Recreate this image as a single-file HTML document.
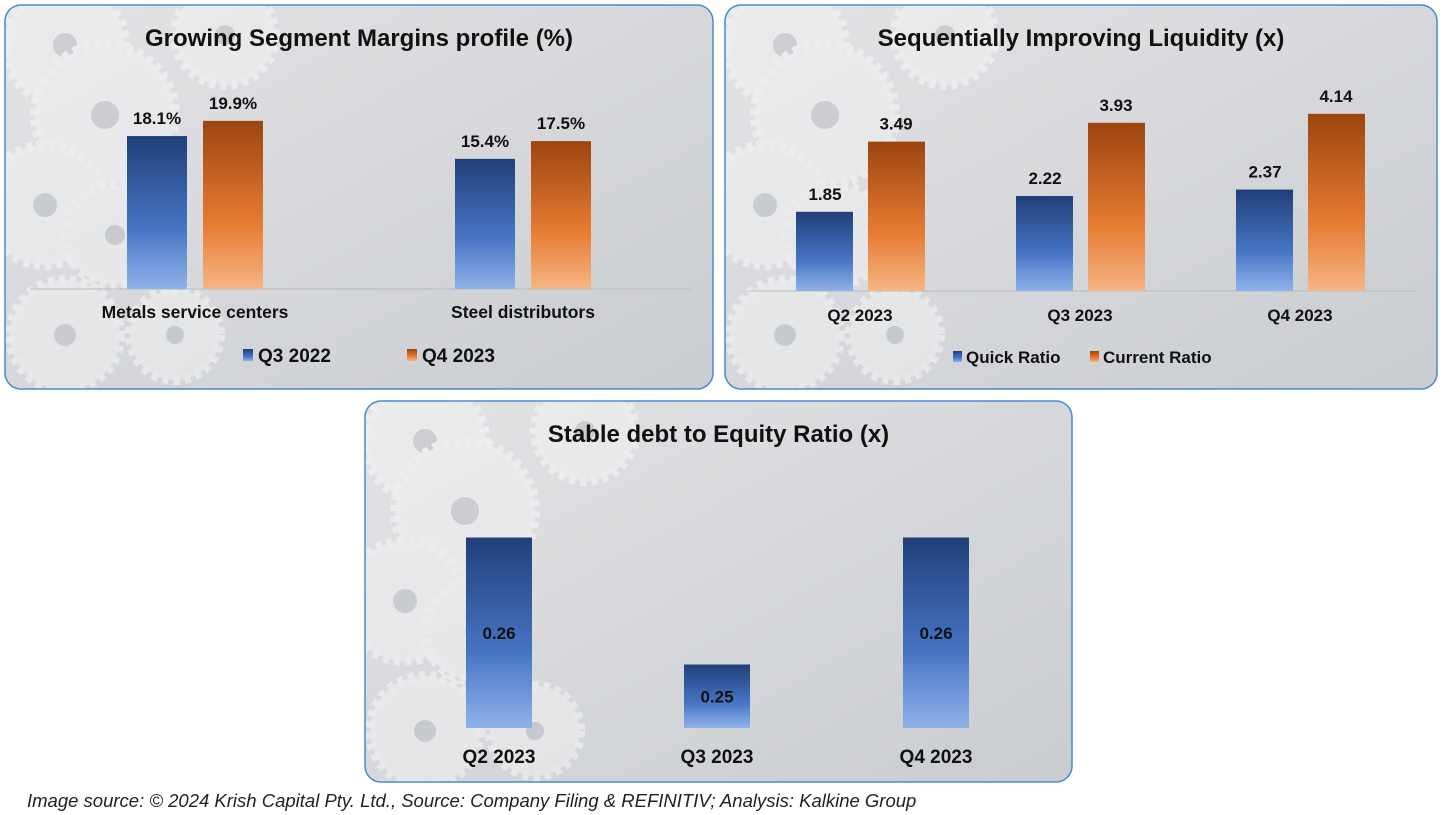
<!DOCTYPE html>
<html><head><meta charset="utf-8">
<style>
body{margin:0;width:1445px;height:815px;background:#fff;font-family:"Liberation Sans",Arial,sans-serif;position:relative;overflow:hidden}
svg{position:absolute;left:0;top:0}
text{font-family:"Liberation Sans",Arial,sans-serif}
#caption{position:absolute;left:27px;top:790px;font-style:italic;font-size:18.5px;color:#222;white-space:nowrap}
</style></head><body>
<svg id="s" width="1445" height="815">
<defs>
<linearGradient id="gb" x1="0" y1="0" x2="0" y2="1"><stop offset="0" stop-color="#203f78"/><stop offset="0.6" stop-color="#4674c4"/><stop offset="1" stop-color="#8fb2ea"/></linearGradient>
<linearGradient id="go" x1="0" y1="0" x2="0" y2="1"><stop offset="0" stop-color="#9c4510"/><stop offset="0.6" stop-color="#e67a30"/><stop offset="1" stop-color="#f6b585"/></linearGradient>
<linearGradient id="bg" x1="0" y1="0" x2="1" y2="1"><stop offset="0" stop-color="#e2e3e5"/><stop offset="0.5" stop-color="#d6d8db"/><stop offset="1" stop-color="#c9ccd0"/></linearGradient>
</defs>
<g id="panels"></g>
</svg>
<div id="caption">Image source: © 2024 Krish Capital Pty. Ltd., Source: Company Filing &amp; REFINITIV; Analysis: Kalkine Group</div>
<script>
// Chart 1 data
const c1Categories=["Metals service centers","Steel distributors"];
const c1Series1=[18.1,15.4];
const c1Series2=[19.9,17.5];
const c1Labels1=["18.1%","15.4%"];
const c1Labels2=["19.9%","17.5%"];
const c1Legend=["Q3 2022","Q4 2023"];
// Chart 2 data
const c2Categories=["Q2 2023","Q3 2023","Q4 2023"];
const c2Quick=[1.85,2.22,2.37];
const c2Current=[3.49,3.93,4.14];
const c2Legend=["Quick Ratio","Current Ratio"];
// Chart 3 data
const c3Categories=["Q2 2023","Q3 2023","Q4 2023"];
const c3Values=[0.26,0.25,0.26];
const c3Labels=["0.26","0.25","0.26"];

const NS="http://www.w3.org/2000/svg";
const root=document.getElementById('panels');
function mk(tag,attrs,parent){const e=document.createElementNS(NS,tag);for(const k in attrs)e.setAttribute(k,attrs[k]);(parent||root).appendChild(e);return e;}
function txt(x,y,s,size,parent,anchor){const t=mk('text',{x:x,y:y,'font-size':size,'font-weight':'bold','text-anchor':anchor||'middle',fill:'#111'},parent);t.textContent=s;return t;}

function panel(x,y,w,h,name,title,ty){
  const g=mk('g',{});
  
  
  const cp=mk('clipPath',{id:'cp'+name},g);
  mk('rect',{x:x,y:y,width:w,height:h,rx:16},cp);
  mk('rect',{x:x,y:y,width:w,height:h,rx:16,fill:'url(#bg)'},g);
  const gears=mk('g',{'clip-path':'url(#cp'+name+')',opacity:0.5},g);
  const gp=[[60,40,60],[100,110,70],[40,200,60],[110,230,50],[60,330,55],[170,330,45],[220,30,50]];
  gp.forEach(p=>{
    mk('circle',{cx:x+p[0],cy:y+p[1],r:p[2],fill:'#f4f4f4',stroke:'#fafafa','stroke-width':10,'stroke-dasharray':'6 5'},gears);
    mk('circle',{cx:x+p[0],cy:y+p[1],r:p[2]*0.2,fill:'#b9bcc0'},gears);
  });
  mk('rect',{x:x,y:y,width:w,height:h,rx:16,fill:'none',stroke:'#4a8ad0','stroke-width':1.5},g);
  const t=txt(x+w/2,ty,title,24,g);
  
  
  return g;
}

// Chart 1
{
 const g=panel(5,5,708,384,'segment-margins-panel','Growing Segment Margins profile (%)',46);
 const base=289, k=8.45;
 const y=v=>base-v*k;
 mk('line',{x1:30,y1:base,x2:690,y2:base,stroke:'#bbb'},g);
 const cx=[195,523];
 c1Categories.forEach((c,i)=>{
  const b1=mk('rect',{x:cx[i]-68,y:y(c1Series1[i]),width:60,height:base-y(c1Series1[i]),fill:'url(#gb)'},g);
  
  
  const b2=mk('rect',{x:cx[i]+8,y:y(c1Series2[i]),width:60,height:base-y(c1Series2[i]),fill:'url(#go)'},g);
  
  
  const l1=txt(cx[i]-38,y(c1Series1[i])-12,c1Labels1[i],17,g);
  
  
  const l2=txt(cx[i]+38,y(c1Series2[i])-12,c1Labels2[i],17,g);
  
  
  const cl=txt(cx[i],318,c,17.5,g);
  
  
 });
 [[243,'url(#gb)'],[407,'url(#go)']].forEach((p,i)=>{
  const r=mk('rect',{x:p[0],y:349,width:10,height:12,fill:p[1]},g);
  
  
  const t=txt(p[0]+15,362,c1Legend[i],19,g,'start');
  
  
 });
}
// Chart 2
{
 const g=panel(725,5,712,384,'liquidity-panel','Sequentially Improving Liquidity (x)',46);
 const base=291, k=42.8;
 const y=v=>base-v*k;
 mk('line',{x1:748,y1:base,x2:1415,y2:base,stroke:'#bbb'},g);
 const cx=[860,1080,1300];
 c2Categories.forEach((c,i)=>{
  const b1=mk('rect',{x:cx[i]-64,y:y(c2Quick[i]),width:57,height:base-y(c2Quick[i]),fill:'url(#gb)'},g);
  
  
  const b2=mk('rect',{x:cx[i]+8,y:y(c2Current[i]),width:57,height:base-y(c2Current[i]),fill:'url(#go)'},g);
  
  
  const l1=txt(cx[i]-35,y(c2Quick[i])-12,c2Quick[i].toFixed(2),17,g);
  
  
  const l2=txt(cx[i]+36,y(c2Current[i])-12,c2Current[i].toFixed(2),17,g);
  
  
  const cl=txt(cx[i],321,c,17,g);
  
  
 });
 [[953,'url(#gb)'],[1090,'url(#go)']].forEach((p,i)=>{
  const r=mk('rect',{x:p[0],y:351,width:9,height:11,fill:p[1]},g);
  
  
  const t=txt(p[0]+13,363,c2Legend[i],17,g,'start');
  
  
 });
}
// Chart 3
{
 const g=panel(365,401,707,381,'debt-equity-panel','Stable debt to Equity Ratio (x)',442);
 const base=728, vmin=0.245, k=12700;
 const y=v=>base-(v-vmin)*k;
 const cx=[499,717,936];
 c3Categories.forEach((c,i)=>{
  const b=mk('rect',{x:cx[i]-33,y:y(c3Values[i]),width:66,height:base-y(c3Values[i]),fill:'url(#gb)'},g);
  
  
  const l=txt(cx[i],(y(c3Values[i])+base)/2+6,c3Labels[i],17,g);
  
  
  const cl=txt(cx[i],763,c,19,g);
  
  
 });
}
</script>
</body></html>
